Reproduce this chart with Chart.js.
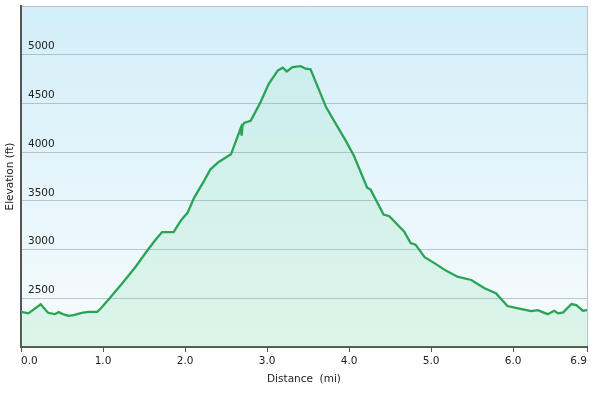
<!DOCTYPE html>
<html>
<head>
<meta charset="utf-8">
<script src="https://cdn.jsdelivr.net/npm/chart.js@4.4.1/dist/chart.umd.min.js"></script>
<style>
  html, body { margin: 0; padding: 0; background: #fff; }
  #wrap { width: 594px; height: 395px; position: relative; }
</style>
</head>
<body>
<div id="wrap"><canvas id="profile"></canvas></div>
<script>
// distance along the trail (mi) and elevation (ft)
const DIST = [0.00, 0.09, 0.24, 0.33, 0.41, 0.46, 0.52, 0.58, 0.64, 0.74, 0.82, 0.93, 0.98,
  1.07, 1.23, 1.40, 1.54, 1.64, 1.72, 1.86, 1.95, 2.03, 2.11, 2.23, 2.31, 2.41, 2.56,
  2.64, 2.68, 2.69, 2.70, 2.72, 2.80, 2.92, 3.02, 3.13, 3.19, 3.24, 3.31, 3.41, 3.47,
  3.53, 3.72, 3.96, 4.06, 4.22, 4.26, 4.42, 4.49, 4.67, 4.75, 4.81, 4.92, 5.04, 5.18,
  5.32, 5.49, 5.65, 5.79, 5.93, 6.06, 6.22, 6.30, 6.42, 6.50, 6.55, 6.61, 6.71, 6.77,
  6.85, 6.90];
const ELEV = [2361, 2345, 2438, 2351, 2337, 2358, 2334, 2320, 2327, 2351, 2361, 2361, 2402,
  2490, 2650, 2826, 2990, 3100, 3180, 3180, 3300, 3377, 3531, 3703, 3824, 3899, 3978,
  4160, 4250, 4170, 4270, 4300, 4322, 4512, 4701, 4838, 4866, 4828, 4873, 4883, 4856,
  4850, 4460, 4116, 3961, 3635, 3617, 3360, 3342, 3187, 3067, 3050, 2922, 2861, 2784,
  2722, 2688, 2603, 2551, 2420, 2396, 2368, 2379, 2337, 2372, 2345, 2355, 2441, 2430,
  2372, 2379];
const X_TICKS = [0, 1, 2, 3, 4, 5, 6, 6.9];
const Y_MIN = 2000;
const Y_MAX = 5500;
const Y_STEP = 500;

const FONT = { family: 'DejaVu Sans', size: 10.5 };

// light blue to white wash behind the plot
const plotBackground = {
  id: 'plotBackground',
  beforeDraw(chart) {
    const { ctx, chartArea: a } = chart;
    const g = ctx.createLinearGradient(0, a.top, 0, a.bottom);
    g.addColorStop(0, '#d2eef8');
    g.addColorStop(1, '#f7fcfd');
    ctx.save();
    ctx.fillStyle = g;
    ctx.fillRect(a.left, a.top, a.right - a.left, a.bottom - a.top);
    ctx.restore();
  }
};

new Chart(document.getElementById('profile'), {
  type: 'line',
  data: {
    datasets: [{
      data: DIST.map((d, i) => ({ x: d, y: ELEV[i] })),
      borderColor: '#2aa356',
      borderWidth: 2.3,
      pointRadius: 0,
      tension: 0,
      fill: 'start',
      backgroundColor: (c) => {
        const a = c.chart.chartArea;
        if (!a) return 'rgba(60,200,110,0.12)';
        const g = c.chart.ctx.createLinearGradient(0, a.top, 0, a.bottom);
        g.addColorStop(0, 'rgba(60,200,110,0.07)');
        g.addColorStop(1, 'rgba(60,200,110,0.14)');
        return g;
      }
    }]
  },
  options: {
    responsive: true,
    maintainAspectRatio: false,
    animation: false,
    layout: { padding: { top: 6, right: 7, left: 0, bottom: 0 } },
    plugins: { legend: { display: false }, tooltip: { enabled: false } },
    scales: {
      x: {
        type: 'linear',
        min: 0,
        max: 6.9,
        afterBuildTicks: (s) => { s.ticks = X_TICKS.map(v => ({ value: v })); },
        afterFit: (s) => { s.height = 48; s.paddingLeft = 0; s.paddingRight = 0; },
        ticks: {
          align: 'inner',
          autoSkip: false,
          maxRotation: 0,
          padding: 3,
          color: '#222',
          font: FONT,
          callback: (v) => Number(v).toFixed(1)
        },
        grid: {
          drawOnChartArea: true,
          tickLength: 5,
          tickColor: '#555',
          color: (c) => (c.tick && c.tick.value === 6.9 ? '#b8c4cc' : 'rgba(0,0,0,0)')
        },
        border: { color: '#555', width: 2 },
        title: {
          display: true,
          text: 'Distance  (mi)',
          color: '#222',
          font: FONT,
          padding: { top: 0, bottom: 9 }
        }
      },
      y: {
        min: Y_MIN,
        max: Y_MAX,
        afterFit: (s) => { s.width = 21; s.paddingTop = 0; s.paddingBottom = 0; },
        ticks: {
          stepSize: Y_STEP,
          mirror: true,
          padding: 7,
          labelOffset: -8,
          color: '#222',
          font: FONT,
          callback: (v) => (v === Y_MIN || v === Y_MAX ? '' : v)
        },
        grid: {
          drawTicks: false,
          color: (c) => {
            const v = c.tick ? c.tick.value : 0;
            if (v === Y_MIN) return 'rgba(0,0,0,0)';
            if (v === Y_MAX) return '#b8c4cc';
            return 'rgba(110,125,135,0.4)';
          }
        },
        border: { color: '#555', width: 2 },
        title: {
          display: true,
          text: 'Elevation (ft)',
          color: '#222',
          font: FONT,
          padding: { top: 4, bottom: 0 }
        }
      }
    }
  },
  plugins: [plotBackground]
});
</script>
</body>
</html>
